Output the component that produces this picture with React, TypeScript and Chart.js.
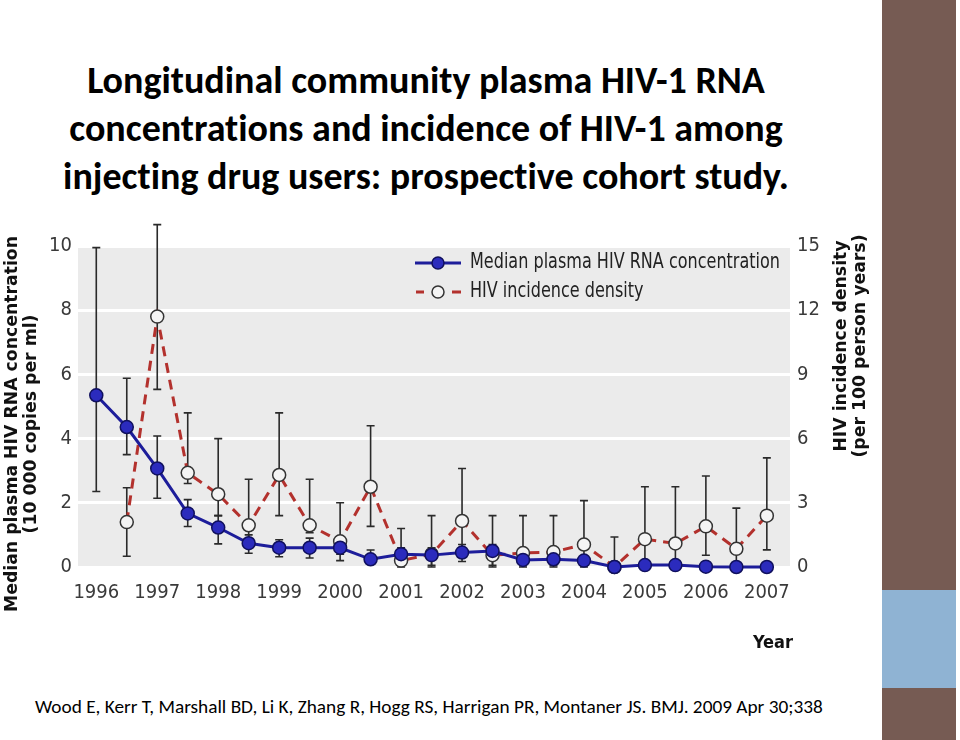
import React, { useEffect, useRef } from 'react';
import { Chart, registerables } from 'chart.js';

Chart.register(...registerables);

// ---- data ----
const xPositions = [1996, 1996.5, 1997, 1997.5, 1998, 1998.5, 1999, 1999.5, 2000, 2000.5, 2001, 2001.5, 2002, 2002.5, 2003, 2003.5, 2004, 2004.5, 2005, 2005.5, 2006, 2006.5, 2007];
const yearTicks = [1996, 1997, 1998, 1999, 2000, 2001, 2002, 2003, 2004, 2005, 2006, 2007];

// Median plasma HIV RNA concentration (10 000 copies per ml) - left axis
const rnaMedian = [5.35, 4.36, 3.07, 1.67, 1.23, 0.74, 0.6, 0.6, 0.6, 0.24, 0.4, 0.37, 0.45, 0.5, 0.22, 0.24, 0.2, 0.0, 0.06, 0.06, 0.01, 0.0, 0.0];
const rnaLow = [2.35, 3.5, 2.14, 1.26, 0.72, 0.43, 0.32, 0.28, 0.2, 0.1, 0.15, 0.05, 0.17, 0.05, 0.05, 0.05, 0.05, null, null, null, null, null, null];
const rnaHigh = [9.95, 5.88, 4.08, 2.1, 1.6, 1.0, 0.85, 0.9, 0.8, 0.53, 0.6, 0.6, 0.7, 0.7, 0.35, 0.35, 0.3, null, null, null, null, null, null];

// HIV incidence density (per 100 person years) - right axis
const incidence = [null, 2.1, 11.7, 4.4, 3.4, 1.95, 4.3, 1.95, 1.2, 3.75, 0.3, 0.6, 2.15, 0.55, 0.65, 0.7, 1.05, 0, 1.3, 1.1, 1.9, 0.85, 2.4];
const incLow = [null, 0.5, 8.3, 3.9, 2.4, 1.0, 2.4, 1.6, 0.6, 1.9, 0, 0, 0.6, 0, 0, 0, 0, 0, 0, 0, 0.55, 0, 0.8];
const incHigh = [null, 3.7, 16.0, 7.2, 6.0, 4.1, 7.2, 4.1, 3.0, 6.6, 1.8, 2.4, 4.6, 2.4, 2.4, 2.4, 3.1, 1.4, 3.75, 3.75, 4.25, 2.75, 5.1];

const leftTicks = [0, 2, 4, 6, 8, 10];
const rightTicks = [0, 3, 6, 9, 12, 15];

const seriesNames = ['Median plasma HIV RNA concentration', 'HIV incidence density'];
const titleLines = [
  'Longitudinal community plasma HIV-1 RNA',
  'concentrations and incidence of HIV-1 among',
  'injecting drug users: prospective cohort study.',
];
const citation = 'Wood E, Kerr T, Marshall BD, Li K, Zhang R, Hogg RS, Harrigan PR, Montaner JS. BMJ. 2009 Apr 30;338';
const leftTitle = ['Median plasma HIV RNA concentration', '(10 000 copies per ml)'];
const rightTitle = ['HIV incidence density', '(per 100 person years)'];
const xTitle = 'Year';

const BLUE_LINE = '#1d1d9a';
const BLUE_FILL = '#2b2bbd';
const RED = '#b3312d';
const NARROW = "'Liberation Sans Narrow', 'DejaVu Sans Condensed', 'Open Sans', sans-serif";
const BOLDF = "'DejaVu Sans', Verdana, sans-serif";

const errorBarPlugin = {
  id: 'errorBars',
  beforeDatasetsDraw(chart: any) {
    const ctx = chart.ctx;
    const x = chart.scales.x;
    const yl = chart.scales.y;
    const yr = chart.scales.y1;
    ctx.save();
    ctx.strokeStyle = '#2a2a2a';
    ctx.lineWidth = 1.6;
    const draw = (lows: any[], highs: any[], scale: any) => {
      xPositions.forEach((xv, i) => {
        const lo = lows[i];
        const hi = highs[i];
        if (lo == null || hi == null) return;
        const px = x.getPixelForValue(xv);
        const p1 = scale.getPixelForValue(lo);
        const p2 = scale.getPixelForValue(hi);
        ctx.beginPath();
        ctx.moveTo(px, p1);
        ctx.lineTo(px, p2);
        ctx.moveTo(px - 4, p1);
        ctx.lineTo(px + 4, p1);
        ctx.moveTo(px - 4, p2);
        ctx.lineTo(px + 4, p2);
        ctx.stroke();
      });
    };
    draw(rnaLow, rnaHigh, yl);
    draw(incLow, incHigh, yr);
    ctx.restore();
  },
};

const bgPlugin = {
  id: 'plotBg',
  beforeDraw(chart: any) {
    const { ctx, chartArea } = chart;
    ctx.save();
    ctx.fillStyle = '#ebebeb';
    ctx.fillRect(chartArea.left, chartArea.top, chartArea.right - chartArea.left, chartArea.bottom - chartArea.top);
    ctx.restore();
  },
};

const decorPlugin = {
  id: 'decor',
  afterDraw(chart: any) {
    const { ctx, chartArea } = chart;
    ctx.save();
    // axis titles
    ctx.fillStyle = '#111';
    ctx.font = `bold 17.3px ${BOLDF}`;
    ctx.textAlign = 'center';
    ctx.textBaseline = 'middle';
    const rot = (lines: string[], xs: number[], cy: number) => {
      lines.forEach((t, i) => {
        ctx.save();
        ctx.translate(xs[i], cy);
        ctx.rotate(-Math.PI / 2);
        ctx.fillText(t, 0, 0);
        ctx.restore();
      });
    };
    rot(leftTitle, [13, 32], 204);
    rot(rightTitle, [chartArea.right + 52, chartArea.right + 71], 126);
    ctx.font = `bold 18px ${NARROW}`;
    ctx.textAlign = 'right';
    ctx.fillText(xTitle, chartArea.right + 3, 423);

    // legend
    const lx = chartArea.right - 375;
    const ly1 = chartArea.top + 17;
    const ly2 = chartArea.top + 46;
    ctx.lineWidth = 3;
    ctx.strokeStyle = BLUE_LINE;
    ctx.beginPath();
    ctx.moveTo(lx, ly1);
    ctx.lineTo(lx + 46, ly1);
    ctx.stroke();
    ctx.beginPath();
    ctx.arc(lx + 23, ly1, 6, 0, Math.PI * 2);
    ctx.fillStyle = BLUE_FILL;
    ctx.fill();
    ctx.lineWidth = 1.5;
    ctx.strokeStyle = '#10105e';
    ctx.stroke();
    ctx.lineWidth = 3;
    ctx.strokeStyle = RED;
    ctx.beginPath();
    ctx.moveTo(lx + 1, ly2);
    ctx.lineTo(lx + 9, ly2);
    ctx.moveTo(lx + 37, ly2);
    ctx.lineTo(lx + 46, ly2);
    ctx.stroke();
    ctx.beginPath();
    ctx.arc(lx + 23, ly2, 6, 0, Math.PI * 2);
    ctx.fillStyle = '#f4f4f4';
    ctx.fill();
    ctx.lineWidth = 1.5;
    ctx.strokeStyle = '#333';
    ctx.stroke();
    ctx.fillStyle = '#222';
    ctx.font = `21px ${NARROW}`;
    ctx.textAlign = 'left';
    const w0 = ctx.measureText(seriesNames[0]).width;
    const sx = Math.min(1, 310 / w0);
    seriesNames.forEach((name, i) => {
      ctx.save();
      ctx.translate(lx + 55, i === 0 ? ly1 : ly2);
      ctx.scale(sx, 1);
      ctx.fillText(name, 0, 0);
      ctx.restore();
    });
    ctx.restore();
  },
};

function ChartView() {
  const ref = useRef<HTMLCanvasElement>(null);
  useEffect(() => {
    if (!ref.current) return;
    const chart = new Chart(ref.current, {
      type: 'line',
      data: {
        datasets: [
          {
            label: seriesNames[0],
            data: xPositions.map((x, i) => ({ x, y: rnaMedian[i] })),
            yAxisID: 'y',
            borderColor: BLUE_LINE,
            borderWidth: 3,
            backgroundColor: BLUE_FILL,
            pointBackgroundColor: BLUE_FILL,
            pointBorderColor: '#10105e',
            pointBorderWidth: 1.5,
            pointRadius: 6.5,
            tension: 0,
            clip: false,
          },
          {
            label: seriesNames[1],
            data: xPositions.map((x, i) => ({ x, y: incidence[i] })),
            yAxisID: 'y1',
            borderColor: RED,
            borderWidth: 3,
            borderDash: [10, 7],
            backgroundColor: '#f4f4f4',
            pointBackgroundColor: '#f4f4f4',
            pointBorderColor: '#333',
            pointBorderWidth: 1.5,
            pointRadius: 6.5,
            tension: 0,
            clip: false,
          },
        ],
      },
      options: {
        animation: false,
        responsive: false,
        maintainAspectRatio: false,
        layout: { padding: { top: 26, left: 0, right: 0, bottom: 0 } },
        plugins: { legend: { display: false }, tooltip: { enabled: false } },
        scales: {
          x: {
            type: 'linear',
            min: 1995.7,
            max: 2007.38,
            afterBuildTicks: (s: any) => { s.ticks = yearTicks.map((v) => ({ value: v })); },
            afterFit: (s: any) => { s.height = 103; },
            grid: { display: false },
            border: { display: false },
            ticks: {
              autoSkip: false,
              maxRotation: 0,
              padding: 6,
              color: '#3a3a3a',
              font: { family: NARROW, size: 20 },
              callback: (v: any) => String(v),
            },
          },
          y: {
            position: 'left',
            min: 0,
            max: 10,
            afterBuildTicks: (s: any) => { s.ticks = leftTicks.map((v) => ({ value: v })); },
            afterFit: (s: any) => { s.width = 78; },
            grid: { color: '#ffffff', lineWidth: 3, drawTicks: false },
            border: { display: false },
            ticks: { padding: 6, color: '#3a3a3a', font: { family: NARROW, size: 20 } },
          },
          y1: {
            position: 'right',
            min: 0,
            max: 15,
            afterBuildTicks: (s: any) => { s.ticks = rightTicks.map((v) => ({ value: v })); },
            afterFit: (s: any) => { s.width = 90; },
            grid: { display: false, drawTicks: false },
            border: { display: false },
            ticks: { padding: 7, color: '#3a3a3a', font: { family: NARROW, size: 20 } },
          },
        },
      },
      plugins: [bgPlugin, errorBarPlugin, decorPlugin],
    } as any);
    return () => chart.destroy();
  }, []);
  return (
    <canvas
      ref={ref}
      width={880}
      height={450}
      style={{ position: 'absolute', left: 0, top: 220, width: 880, height: 450 }}
    />
  );
}

export default function App() {
  return (
    <div style={{ position: 'fixed', left: 0, top: 0, width: 960, height: 740, background: '#fff', overflow: 'hidden' }}>
      <div style={{ position: 'absolute', left: 882, top: 0, width: 74, height: 740, background: '#765b53' }} />
      <div style={{ position: 'absolute', left: 882, top: 590, width: 74, height: 98, background: '#8fb3d3' }} />
      <div
        style={{
          position: 'absolute',
          left: 0,
          top: 56,
          width: 852,
          textAlign: 'center',
          fontFamily: "Carlito, Lato, 'Open Sans', sans-serif",
          fontWeight: 'bold',
          fontSize: 38,
          lineHeight: '48px',
          fontVariantLigatures: 'none',
          color: '#000',
          whiteSpace: 'nowrap',
        }}
      >
        {titleLines.map((t, i) => (
          <div key={i}>{t}</div>
        ))}
      </div>
      <ChartView />
      <div
        style={{
          position: 'absolute',
          left: 35,
          top: 696,
          fontFamily: "Carlito, Lato, 'Open Sans', sans-serif",
          fontSize: 19.3,
          lineHeight: '22px',
          color: '#000',
          whiteSpace: 'nowrap',
        }}
      >
        {citation}
      </div>
    </div>
  );
}
